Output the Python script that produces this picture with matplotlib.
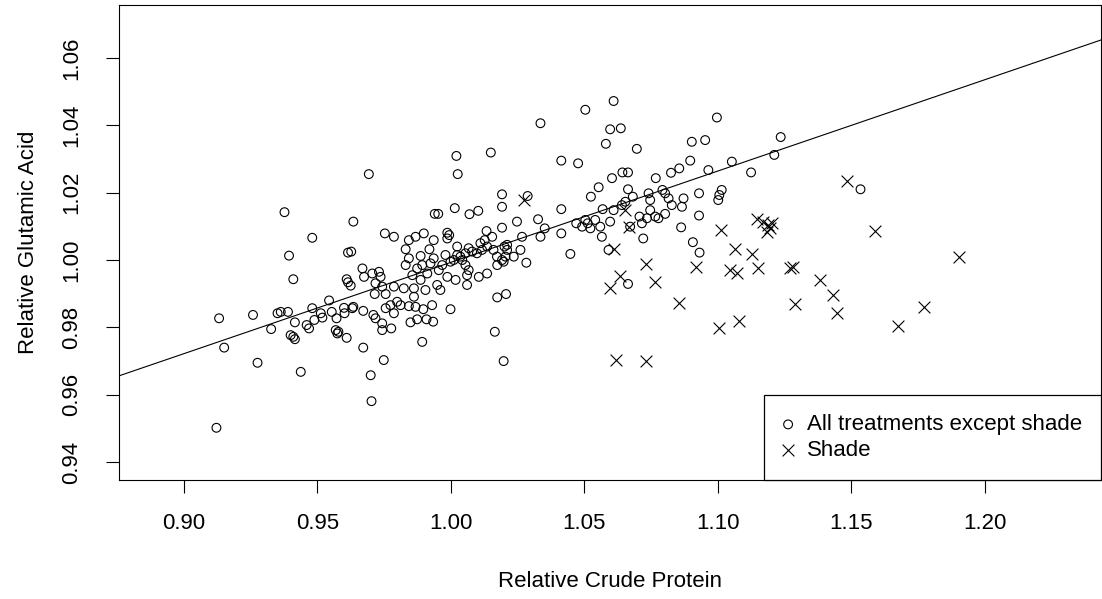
import matplotlib
matplotlib.use("Agg")
import matplotlib.pyplot as plt
import numpy as np

# ---- data ----
others_x = [
    0.9377, 0.9635, 0.9481, 0.9394, 0.9615, 0.9410, 0.9610, 0.9615, 0.9625, 0.9544,
    0.9132, 0.9259, 0.9351, 0.9363, 0.9390, 0.9416, 0.9327, 0.9481, 0.9513, 0.9489,
    0.9519, 0.9554, 0.9572, 0.9600, 0.9602, 0.9631, 0.9460, 0.9469, 0.9400, 0.9410,
    0.9416, 0.9569, 0.9579, 0.9575, 0.9610, 0.9151, 0.9276, 0.9438, 0.9122,
    1.0021, 1.0150, 0.9693, 1.0026, 1.0192, 1.0192, 1.0015, 0.9940, 0.9953, 1.0070,
    1.0103, 1.0192, 0.9753, 0.9787, 0.9843, 0.9868, 0.9899, 0.9987, 0.9994, 0.9987,
    1.0134, 1.0155, 1.0127, 1.0111, 0.9936, 0.9831, 1.0024, 1.0201, 1.0211, 1.0174,
    1.0192, 0.9627, 0.9669, 0.9675, 0.9706, 0.9731, 0.9737,
    0.9887, 0.9920, 0.9843, 0.9893, 0.9924, 0.9936, 0.9968, 0.9980, 0.9999, 1.0024,
    1.0043, 1.0055, 1.0067, 1.0055, 1.0080, 1.0036, 1.0011, 1.0098, 1.0117, 1.0136,
    1.0160, 1.0173, 1.0205, 0.9831, 0.9874, 0.9912, 0.9856, 0.9887, 0.9955, 0.9987,
    1.0018, 1.0061, 1.0067, 1.0105, 1.0136, 1.0061, 0.9718, 0.9743, 0.9787, 0.9824,
    0.9862, 0.9905, 0.9949, 0.9961,
    0.9715, 0.9756, 0.9862, 0.9635, 0.9672, 0.9710, 0.9718, 0.9743, 0.9743, 0.9777,
    0.9756, 0.9774, 0.9799, 0.9787, 0.9812, 0.9843, 0.9868, 0.9897, 0.9930, 0.9849,
    0.9874, 0.9909, 0.9934, 0.9999, 1.0174, 1.0207, 1.0165, 0.9893, 0.9672, 0.9749,
    1.0198, 0.9700, 0.9703,
    1.0610, 1.0504, 1.0336, 1.0597, 1.0637, 1.0581, 1.0697, 1.0414, 1.0477, 1.0643,
    1.0664, 1.0604, 1.0768, 1.0554, 1.0525, 1.0664, 1.0682, 1.0654, 1.0741, 1.0747,
    1.0288, 1.0414, 1.0569, 1.0610, 1.0641, 1.0747, 1.0735, 1.0707, 1.0766, 1.0248,
    1.0327, 1.0352, 1.0470, 1.0492, 1.0513, 1.0523, 1.0541, 1.0560, 1.0597, 1.0672,
    1.0716, 1.0414, 1.0267, 1.0336, 1.0566, 1.0721,
    1.0211, 1.0236, 1.0261, 1.0198, 1.0283, 1.0448, 1.0591, 1.0664,
    1.0997, 1.1236, 1.0903, 1.0953, 1.1212, 1.0897, 1.1053, 1.0856, 1.0825, 1.0965,
    1.1125, 1.0793, 1.0803, 1.0816, 1.0828, 1.0866, 1.0872, 1.0930, 1.1015, 1.1006,
    1.1002, 1.0803, 1.0778, 1.0930, 1.0863, 1.0907, 1.0932, 1.0504, 1.1535,
]
others_y = [
    1.0142, 1.0114, 1.0066, 1.0013, 1.0022, 0.9943, 0.9943, 0.9934, 0.9924, 0.9880,
    0.9827, 0.9837, 0.9842, 0.9846, 0.9846, 0.9815, 0.9795, 0.9857, 0.9842, 0.9822,
    0.9829, 0.9846, 0.9827, 0.9858, 0.9842, 0.9857, 0.9807, 0.9797, 0.9777, 0.9772,
    0.9765, 0.9792, 0.9787, 0.9782, 0.9769, 0.9740, 0.9695, 0.9668, 0.9502,
    1.0309, 1.0319, 1.0255, 1.0255, 1.0195, 1.0158, 1.0154, 1.0137, 1.0137, 1.0136,
    1.0146, 1.0096, 1.0079, 1.0069, 1.0059, 1.0069, 1.0079, 1.0081, 1.0074, 1.0064,
    1.0086, 1.0069, 1.0059, 1.0050, 1.0059, 1.0032, 1.0040, 1.0040, 1.0030, 0.9985,
    1.0000, 1.0025, 0.9975, 0.9950, 0.9960, 0.9965, 0.9950,
    1.0012, 1.0032, 1.0005, 0.9985, 0.9990, 1.0005, 0.9985, 1.0015, 0.9995, 1.0015,
    1.0000, 0.9985, 1.0035, 1.0020, 1.0025, 1.0010, 1.0000, 1.0020, 1.0030, 1.0040,
    1.0030, 1.0010, 1.0010, 0.9985, 0.9975, 0.9960, 0.9955, 0.9941, 0.9970, 0.9950,
    0.9941, 0.9955, 0.9970, 0.9950, 0.9960, 0.9926, 0.9931, 0.9921, 0.9921, 0.9916,
    0.9916, 0.9911, 0.9926, 0.9911,
    0.9899, 0.9899, 0.9891, 0.9861, 0.9849, 0.9837, 0.9827, 0.9812, 0.9792, 0.9797,
    0.9857, 0.9866, 0.9876, 0.9842, 0.9866, 0.9863, 0.9861, 0.9854, 0.9866, 0.9815,
    0.9824, 0.9824, 0.9817, 0.9854, 0.9889, 0.9899, 0.9787, 0.9757, 0.9740, 0.9703,
    0.9700, 0.9658, 0.9581,
    1.0472, 1.0446, 1.0406, 1.0388, 1.0391, 1.0345, 1.0330, 1.0295, 1.0287, 1.0260,
    1.0260, 1.0243, 1.0243, 1.0216, 1.0188, 1.0210, 1.0188, 1.0173, 1.0198, 1.0178,
    1.0190, 1.0151, 1.0151, 1.0148, 1.0163, 1.0148, 1.0124, 1.0129, 1.0129, 1.0114,
    1.0121, 1.0094, 1.0109, 1.0099, 1.0109, 1.0094, 1.0119, 1.0099, 1.0114, 1.0099,
    1.0109, 1.0079, 1.0069, 1.0069, 1.0069, 1.0064,
    1.0045, 1.0010, 1.0030, 0.9995, 0.9992, 1.0018, 1.0030, 0.9929,
    1.0423, 1.0365, 1.0351, 1.0356, 1.0312, 1.0295, 1.0292, 1.0272, 1.0259, 1.0267,
    1.0260, 1.0208, 1.0198, 1.0183, 1.0163, 1.0158, 1.0183, 1.0198, 1.0208, 1.0193,
    1.0178, 1.0137, 1.0124, 1.0132, 1.0097, 1.0053, 1.0022, 1.0119, 1.0210,
]

shade_x = [
    1.0273, 1.0654, 1.0669, 1.0613, 1.0730, 1.0635, 1.0597, 1.0766, 1.0619, 1.0731,
    1.1013, 1.1063, 1.1128, 1.1146, 1.1171, 1.1190, 1.1202, 1.1184, 1.1196, 1.0919,
    1.1046, 1.1071, 1.1150, 1.1271, 1.1283, 1.0856, 1.1078, 1.1006, 1.1290, 1.1483,
    1.1589, 1.1903, 1.1383, 1.1431, 1.1446, 1.1772, 1.1676,
]
shade_y = [
    1.0178, 1.0148, 1.0099, 1.0032, 0.9988, 0.9952, 0.9918, 0.9936, 0.9703, 0.9700,
    1.0089, 1.0032, 1.0017, 1.0121, 1.0114, 1.0104, 1.0109, 1.0084, 1.0094, 0.9978,
    0.9970, 0.9960, 0.9975, 0.9975, 0.9978, 0.9873, 0.9820, 0.9797, 0.9869, 1.0236,
    1.0086, 1.0010, 0.9941, 0.9896, 0.9842, 0.9861, 0.9804,
]

fit_intercept = 0.7283
fit_slope = 0.2710

x_ticks = [0.90, 0.95, 1.00, 1.05, 1.10, 1.15, 1.20]
y_ticks = [0.94, 0.96, 0.98, 1.00, 1.02, 1.04, 1.06]
x_limits = (0.8757, 1.2436)
y_limits = (0.9347, 1.0757)
x_title = "Relative Crude Protein"
y_title = "Relative Glutamic Acid"
legend_labels = ["All treatments except shade", "Shade"]

# ---- figure ----
plt.rcParams["font.family"] = ["Liberation Sans", "DejaVu Sans"]
fs = 16

W, H = 1102, 599
fig = plt.figure(figsize=(W / 100, H / 100), dpi=100)
ax = fig.add_axes([119 / W, 1 - 480 / H, (1101 - 119) / W, (480 - 5) / H])

ax.scatter(others_x, others_y, s=40, marker="o", facecolors="none",
           edgecolors="black", linewidths=0.8, label=legend_labels[0], zorder=3)
ax.scatter(shade_x, shade_y, s=72, marker="x", c="black",
           linewidths=0.8, label=legend_labels[1], zorder=3)
ax.axline((0.0, fit_intercept), slope=fit_slope, color="black", lw=0.8, zorder=2)

ax.set_xlim(*x_limits)
ax.set_ylim(*y_limits)
ax.set_xticks(x_ticks)
ax.set_xticklabels([f"{v:.2f}" for v in x_ticks])
ax.set_yticks(y_ticks)
ax.set_yticklabels([f"{v:.2f}" for v in y_ticks], rotation=90, va="center")
ax.tick_params(axis="both", direction="out", length=9.5, width=0.8, labelsize=fs,
               colors="black")
ax.tick_params(axis="x", pad=14)
ax.tick_params(axis="y", pad=17)
for sp in ax.spines.values():
    sp.set_linewidth(0.8)
    sp.set_color("black")

ax.set_xlabel(x_title, fontsize=fs, labelpad=27)
ax.set_ylabel(y_title, fontsize=fs, labelpad=16)

leg = ax.legend(loc="lower right", bbox_to_anchor=(1.0, 0.0), borderaxespad=0,
                fontsize=fs, frameon=True, fancybox=False, framealpha=1,
                edgecolor="black", handlelength=0.5, handletextpad=0.6,
                borderpad=0.85, labelspacing=0.22)
leg.get_frame().set_linewidth(0.9)

fig.savefig("out.png", dpi=100)
